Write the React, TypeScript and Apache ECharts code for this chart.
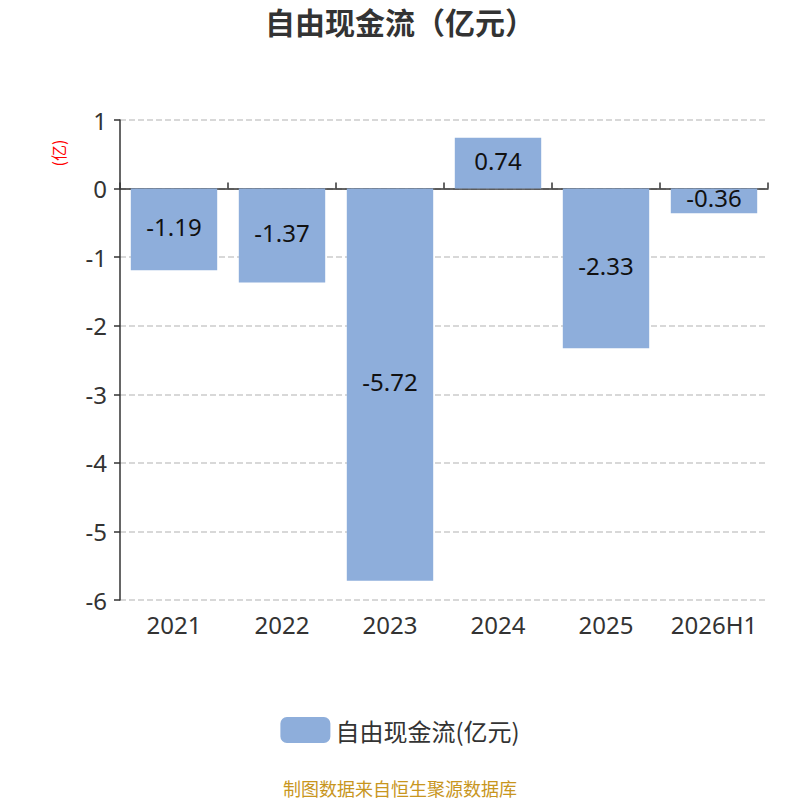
import React, { useEffect, useRef } from "react";
import * as echarts from "echarts";

const categories = ["2021", "2022", "2023", "2024", "2025", "2026H1"];
const values = [-1.19, -1.37, -5.72, 0.74, -2.33, -0.36];
const seriesName = "自由现金流(亿元)";
const titleText = "自由现金流（亿元）";
const footerText = "制图数据来自恒生聚源数据库";
const unitText = "(亿)";

export default function App() {
  const ref = useRef<HTMLDivElement>(null);
  useEffect(() => {
    if (!ref.current) return;
    const chart = echarts.init(ref.current, undefined, { renderer: "svg" });
    chart.setOption({
      animation: false,
      backgroundColor: "#ffffff",
      title: {
        text: titleText,
        left: "center",
        top: 1,
        textStyle: { fontSize: 30, fontWeight: "bold", color: "#333", fontFamily: "Noto Sans CJK SC" },
      },
      grid: { left: 120, right: 32, top: 120, bottom: 200 },
      legend: {
        bottom: 52,
        left: "center",
        icon: "roundRect",
        itemWidth: 50,
        itemHeight: 26,
        itemGap: 10,
        textStyle: { fontSize: 24, color: "#333", fontFamily: "Noto Sans CJK SC" },
        data: [seriesName],
      },
      xAxis: [
        {
          type: "category",
          data: categories,
          position: "bottom",
          axisLine: { show: false, onZero: false },
          axisTick: { show: false },
          axisLabel: { interval: 0, fontSize: 24, color: "#333", margin: 12, fontFamily: "Noto Sans" },
        },
        {
          type: "category",
          data: categories,
          axisLine: { show: true, onZero: true, lineStyle: { color: "#333", width: 1.5 } },
          axisTick: { show: true, interval: 0, length: 6, lineStyle: { color: "#333", width: 1.5 } },
          axisLabel: { show: false },
        },
      ],
      yAxis: {
        type: "value",
        min: -6,
        max: 1,
        interval: 1,
        axisLine: { show: true, lineStyle: { color: "#333", width: 1.5 } },
        axisTick: { show: true, length: 6, lineStyle: { color: "#333", width: 1.5 } },
        axisLabel: { fontSize: 24, color: "#333", margin: 13, fontFamily: "Noto Sans" },
        splitLine: { show: true, lineStyle: { type: "dashed", color: "#ccc", width: 1.5 } },
      },
      graphic: [
        {
          type: "text",
          x: 58,
          y: 153,
          rotation: Math.PI / 2,
          style: {
            text: unitText,
            fill: "#ff0000",
            fontSize: 16,
            align: "center",
            verticalAlign: "middle",
            fontFamily: "Noto Sans CJK SC",
          },
        },
        {
          type: "text",
          left: "center",
          top: 779,
          style: {
            text: footerText,
            fill: "#c8961e",
            fontSize: 18,
            fontFamily: "Noto Sans CJK SC",
          },
        },
      ],
      series: [
        {
          name: seriesName,
          type: "bar",
          xAxisIndex: 0,
          data: values,
          barWidth: "80%",
          itemStyle: { color: "#8eaedb" },
          label: {
            show: true,
            position: "inside",
            offset: [0, -3],
            fontSize: 24,
            color: "#111",
            fontFamily: "Noto Sans",
          },
        },
      ],
    });
    return () => chart.dispose();
  }, []);
  return (
    <div
      ref={ref}
      style={{ position: "absolute", left: 0, top: 0, width: 800, height: 800 }}
    />
  );
}
